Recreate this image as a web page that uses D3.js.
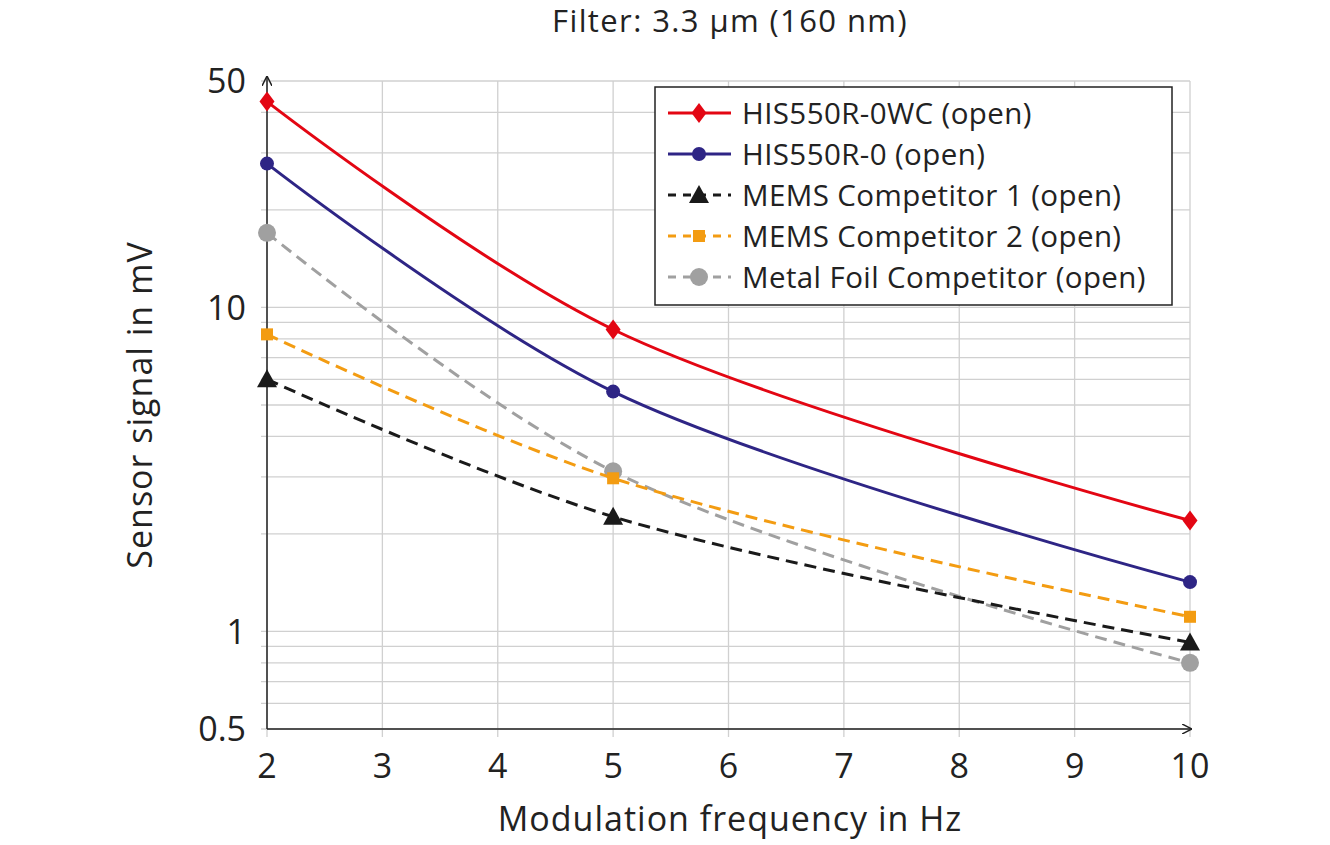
<!DOCTYPE html>
<html>
<head>
<meta charset="utf-8">
<script src="https://cdn.jsdelivr.net/npm/d3@7"></script>
<style>
  body { margin: 0; background: #fff; }
  svg { font-family: "Open Sans", "Noto Sans", sans-serif; }
  .grid line { stroke: #d0d0d0; stroke-width: 1.3; }
</style>
</head>
<body>
<svg id="chart"></svg>
<script>
const frequencies = [2, 5, 10];
const xTicks = [2, 3, 4, 5, 6, 7, 8, 9, 10];
const yLabels = [0.5, 1, 10, 50];
const yGrid = [0.5, 0.6, 0.7, 0.8, 0.9, 1, 2, 3, 4, 5, 6, 7, 8, 9, 10, 20, 30, 40, 50];

const seriesNames = ["HIS550R-0WC (open)", "HIS550R-0 (open)", "MEMS Competitor 1 (open)",
    "MEMS Competitor 2 (open)", "Metal Foil Competitor (open)"];
const his0wc = [43.2, 8.55, 2.2];
const his0 = [27.8, 5.5, 1.42];
const mems1 = [6.0, 2.26, 0.925];
const mems2 = [8.26, 2.97, 1.11];
const metalFoil = [17.0, 3.12, 0.80];

const styles = [
    { color: "#e30613", dash: null, marker: "diamond" },
    { color: "#2e2585", dash: null, marker: "circle" },
    { color: "#1a1a1a", dash: "12,7", marker: "triangle" },
    { color: "#f39c12", dash: "12,7", marker: "square" },
    { color: "#a0a0a0", dash: "12,7", marker: "bigcircle" }
];
const allValues = [his0wc, his0, mems1, mems2, metalFoil];

const width = 1330, height = 845;
const svg = d3.select("#chart").attr("width", width).attr("height", height);

const x = d3.scaleLinear().domain([2, 10]).range([267, 1190]);
const y = d3.scaleLog().domain([0.5, 50]).range([729, 81]);

// grid
const grid = svg.append("g").attr("class", "grid");
grid.selectAll("line.h").data(yGrid).enter().append("line")
    .attr("class", "h")
    .attr("x1", 261).attr("x2", 1190)
    .attr("y1", d => y(d)).attr("y2", d => y(d));
grid.selectAll("line.v").data(xTicks).enter().append("line")
    .attr("class", "v")
    .attr("x1", d => x(d)).attr("x2", d => x(d))
    .attr("y1", 81).attr("y2", 737);

// axes lines with arrows
svg.append("defs").append("marker")
    .attr("id", "arrow").attr("viewBox", "0 0 10 10")
    .attr("refX", 10).attr("refY", 5)
    .attr("markerWidth", 10).attr("markerHeight", 10)
    .attr("markerUnits", "userSpaceOnUse")
    .attr("orient", "auto")
    .append("path").attr("d", "M0,0 L10,5 L0,10")
    .attr("fill", "none").attr("stroke", "#222").attr("stroke-width", 1.5);

svg.append("line").attr("x1", x(2)).attr("x2", x(2)).attr("y1", 729).attr("y2", 76)
    .attr("stroke", "#222").attr("stroke-width", 1.5).attr("marker-end", "url(#arrow)");
svg.append("line").attr("x1", x(2)).attr("x2", 1192).attr("y1", 729).attr("y2", 729)
    .attr("stroke", "#222").attr("stroke-width", 1.5).attr("marker-end", "url(#arrow)");

// tick labels
svg.append("g").selectAll("text").data(yLabels).enter().append("text")
    .attr("x", 246).attr("y", d => y(d))
    .attr("dy", "0.36em")
    .attr("text-anchor", "end")
    .attr("font-size", 34)
    .attr("fill", "#222")
    .text(d => d);
svg.append("g").selectAll("text").data(xTicks).enter().append("text")
    .attr("x", d => x(d)).attr("y", 778)
    .attr("text-anchor", "middle")
    .attr("font-size", 34)
    .attr("fill", "#222")
    .text(d => d);

// titles
svg.append("text").attr("x", 730).attr("y", 32).attr("text-anchor", "middle")
    .attr("font-size", 31).attr("letter-spacing", 1.4).attr("fill", "#222").text("Filter: 3.3 µm (160 nm)");
svg.append("text").attr("x", 730).attr("y", 831).attr("text-anchor", "middle")
    .attr("font-size", 34).attr("letter-spacing", 1).attr("fill", "#222").text("Modulation frequency in Hz");
svg.append("text").attr("transform", "translate(152,405) rotate(-90)")
    .attr("text-anchor", "middle")
    .attr("font-size", 34).attr("letter-spacing", 1).attr("fill", "#222").text("Sensor signal in mV");

function drawMarker(g, type, cx, cy, color) {
    if (type === "diamond") {
        g.append("path").attr("d", `M${cx},${cy - 10} L${cx + 7.5},${cy} L${cx},${cy + 10} L${cx - 7.5},${cy} Z`).attr("fill", color);
    } else if (type === "circle") {
        g.append("circle").attr("cx", cx).attr("cy", cy).attr("r", 7).attr("fill", color);
    } else if (type === "bigcircle") {
        g.append("circle").attr("cx", cx).attr("cy", cy).attr("r", 9).attr("fill", color);
    } else if (type === "triangle") {
        g.append("path").attr("d", `M${cx},${cy - 10} L${cx + 10},${cy + 8} L${cx - 10},${cy + 8} Z`).attr("fill", color);
    } else if (type === "square") {
        g.append("rect").attr("x", cx - 6).attr("y", cy - 6).attr("width", 12).attr("height", 12).attr("fill", color);
    }
}

const line = d3.line()
    .x((d, i) => x(frequencies[i]))
    .y(d => y(d))
    .curve(d3.curveCatmullRom.alpha(0.5));

const plot = svg.append("g");
// draw in order so red on top
[4, 3, 2, 1, 0].forEach(k => {
    const st = styles[k];
    const g = plot.append("g");
    g.append("path").datum(allValues[k])
        .attr("d", line)
        .attr("fill", "none")
        .attr("stroke", st.color)
        .attr("stroke-width", 3)
        .attr("stroke-dasharray", st.dash);
    allValues[k].forEach((v, i) => drawMarker(g, st.marker, x(frequencies[i]), y(v), st.color));
});

// legend
const legend = svg.append("g");
legend.append("rect").attr("x", 655).attr("y", 87).attr("width", 517).attr("height", 218)
    .attr("fill", "#fff").attr("stroke", "#222").attr("stroke-width", 1.5);
seriesNames.forEach((name, i) => {
    const st = styles[i];
    const ly = 113 + i * 41;
    legend.append("line").attr("x1", 668).attr("x2", 731).attr("y1", ly).attr("y2", ly)
        .attr("stroke", st.color).attr("stroke-width", 2.8)
        .attr("stroke-dasharray", st.dash ? "8,7" : null);
    drawMarker(legend, st.marker, 699, ly, st.color);
    legend.append("text").attr("x", 742).attr("y", ly).attr("dy", "0.36em")
        .attr("font-size", 29.5).attr("letter-spacing", 0.4).attr("fill", "#222").text(name);
});
</script>
</body>
</html>
